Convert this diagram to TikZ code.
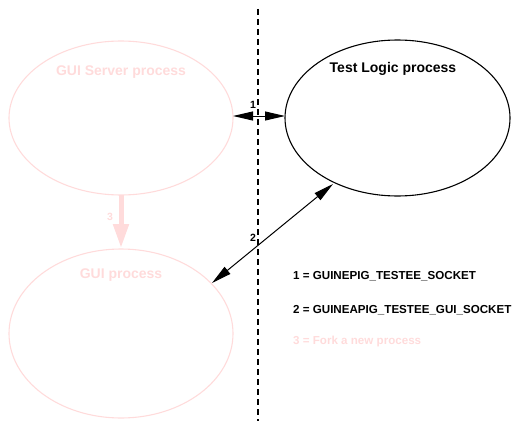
\documentclass[tikz,border=0pt]{standalone}
\usepackage{fontspec}
\setmainfont{Liberation Sans}
\usetikzlibrary{arrows.meta}
\definecolor{pinkish}{RGB}{255,219,219}
\begin{document}
\begin{tikzpicture}[x=1pt,y=-1pt,
  lbl/.style={font=\fontsize{14}{16}\selectfont\bfseries},
  legend/.style={font=\fontsize{11.6}{13}\selectfont\bfseries,anchor=west,inner sep=0pt},
  conn/.style={line width=1pt,{Triangle[length=20pt,width=9pt]}-{Triangle[length=20pt,width=9pt]}},
  num/.style={font=\fontsize{10.5}{12}\selectfont\bfseries,inner sep=0pt}]
\useasboundingbox (0,0) rectangle (526,436);
\draw[pinkish,line width=1.1pt] (121,118) ellipse [x radius=112, y radius=77];
\draw[line width=1.1pt] (397.5,118) ellipse [x radius=112.5, y radius=78];
\draw[pinkish,line width=1.1pt] (121,333.5) ellipse [x radius=112, y radius=84.5];
\node[lbl,pinkish] (srvlbl) at (121,72) {GUI Server process};
\node[lbl] (tllbl) at (393,69) {Test Logic process};
\node[lbl,pinkish] (guilbl) at (121,275) {GUI process};
\coordinate (dtop) at (258,9);
\coordinate (dbot) at (258,421);
\draw[line width=1.4pt,dash pattern=on 6pt off 4pt] (dtop) -- (dbot);
\coordinate (s1) at (233,116);
\coordinate (t1) at (285,116);
\draw[conn] (s1) -- (t1);
\coordinate (g2) at (212,283);
\coordinate (t2) at (333,184);
\draw[conn] (g2) -- (t2);
\coordinate (s3) at (121,195);
\coordinate (g3) at (121,248);
\draw[pinkish,line width=5pt,-{Triangle[length=24pt,width=15pt]}] (s3) -- (g3);
\node[num] (n1) at (253,105) {1};
\node[num] (n2) at (253,238) {2};
\node[num,pinkish] (n3) at (110,217) {3};
\node[legend] (l1) at (293,276) {1 = GUINEPIG\_TESTEE\_SOCKET};
\node[legend] (l2) at (293,310) {2 = GUINEAPIG\_TESTEE\_GUI\_SOCKET};
\node[legend,pinkish] (l3) at (293,341) {3 = Fork a new process};
\end{tikzpicture}
\end{document}
